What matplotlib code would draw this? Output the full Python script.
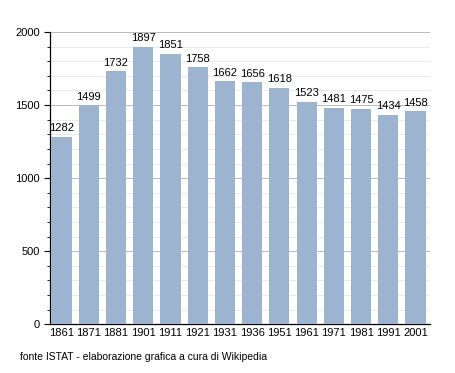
import matplotlib
matplotlib.use("Agg")
import matplotlib.pyplot as plt
from matplotlib.ticker import MultipleLocator

plt.rcParams['font.family'] = ['Liberation Sans', 'DejaVu Sans']

# census years and population
years = ['1861', '1871', '1881', '1901', '1911', '1921', '1931',
         '1936', '1951', '1961', '1971', '1981', '1991', '2001']
population = [1282, 1499, 1732, 1897, 1851, 1758, 1662,
              1656, 1618, 1523, 1481, 1475, 1434, 1458]

fig = plt.figure(figsize=(4.55, 3.73), dpi=100)
ax = fig.add_axes([0.11, 0.131, 0.835, 0.783])

x = list(range(len(years)))
ax.bar(x, population, width=0.74, color='#9cb4cf', zorder=3)

for xi, v in zip(x, population):
    ax.text(xi, v + 25, str(v), ha='center', va='bottom', fontsize=8, zorder=4)

ax.set_xlim(-0.42, 13.53)
ax.set_ylim(0, 2000)
ax.set_xticks(x)
ax.set_xticklabels(years, fontsize=8)
ax.yaxis.set_major_locator(MultipleLocator(500))
ax.yaxis.set_minor_locator(MultipleLocator(100))
ax.tick_params(axis='y', labelsize=8, length=4, width=0.8, which='major')
ax.tick_params(axis='y', length=2.5, width=0.6, which='minor')
ax.tick_params(axis='x', length=0, pad=3)

ax.grid(axis='y', which='major', color='#b8b8b8', linewidth=0.7, zorder=0)
ax.grid(axis='y', which='minor', color='#e6e6e6', linewidth=0.6, zorder=0)

for s in ['top', 'right']:
    ax.spines[s].set_visible(False)
ax.spines['left'].set_linewidth(0.9)
ax.spines['bottom'].set_linewidth(0.9)

fig.text(0.044, 0.035, 'fonte ISTAT - elaborazione grafica a cura di Wikipedia', fontsize=7.5)

fig.savefig('out.png', dpi=100)
